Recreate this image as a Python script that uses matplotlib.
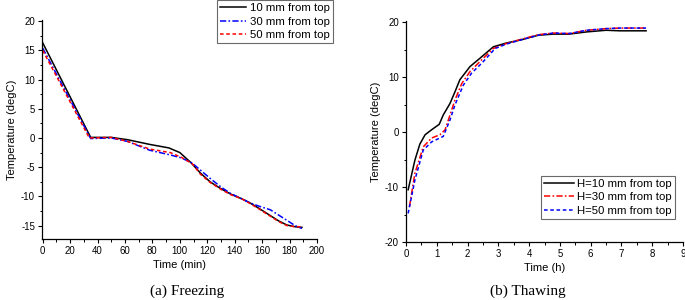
import matplotlib
matplotlib.use("Agg")
import matplotlib.pyplot as plt
from matplotlib.ticker import MultipleLocator

plt.rcParams['font.family'] = ['Liberation Sans', 'DejaVu Sans']
plt.rcParams['axes.unicode_minus'] = False
plt.rcParams['lines.scale_dashes'] = False

# ---- Freezing data (min, degC)
frz_t10 = [0, 35, 50, 62, 78, 92, 100, 108, 115, 122, 130, 137, 145, 151, 158, 166, 172, 178, 184, 189]
frz_T10 = [16.3, 0.1, 0.1, -0.3, -1.1, -1.7, -2.5, -4.2, -6.0, -7.5, -8.7, -9.6, -10.4, -11.1, -12.1, -13.3, -14.2, -14.9, -15.2, -15.3]
frz_t30 = [0, 35, 50, 62, 78, 93, 101, 109, 115, 122, 130, 137, 145, 151, 158, 166, 172, 178, 184, 189]
frz_T30 = [15.4, -0.1, 0.0, -0.6, -2.1, -2.9, -3.4, -4.3, -5.5, -6.9, -8.4, -9.5, -10.4, -11.1, -11.7, -12.3, -13.2, -14.1, -15.0, -15.5]
frz_t50 = [0, 34, 50, 62, 78, 93, 101, 109, 115, 122, 130, 137, 145, 151, 158, 166, 172, 178, 184, 189]
frz_T50 = [15.0, 0.0, 0.1, -0.6, -1.9, -2.5, -3.3, -4.4, -6.2, -7.6, -8.8, -9.7, -10.4, -11.2, -12.2, -13.4, -14.3, -15.0, -15.2, -15.2]

# ---- Thawing data (h, degC)
thw_t10 = [0.07, 0.29, 0.45, 0.62, 0.83, 1.08, 1.21, 1.43, 1.59, 1.75, 2.08, 2.4, 2.84, 3.27, 3.7, 4.3, 4.79, 5.3, 5.87, 6.5, 6.95, 7.8]
thw_T10 = [-10.5, -5.1, -2.2, -0.5, 0.4, 1.4, 3.1, 5.2, 7.3, 9.5, 11.9, 13.4, 15.5, 16.2, 16.7, 17.6, 17.8, 17.8, 18.2, 18.5, 18.4, 18.4]
thw_t30 = [0.11, 0.29, 0.56, 0.83, 1.1, 1.27, 1.43, 1.59, 1.81, 2.08, 2.4, 2.84, 3.27, 3.7, 4.3, 4.79, 5.3, 5.87, 6.5, 6.95, 7.8]
thw_T30 = [-13.6, -7.5, -2.7, -1.1, -0.5, 0.4, 3.1, 5.8, 8.8, 11.0, 12.8, 15.2, 16.1, 16.8, 17.7, 18.0, 17.9, 18.5, 18.8, 18.9, 18.9]
thw_t50 = [0.07, 0.29, 0.56, 0.83, 1.21, 1.43, 1.59, 1.86, 2.13, 2.46, 2.9, 3.27, 3.7, 4.3, 4.79, 5.3, 5.87, 6.5, 6.95, 7.8]
thw_T50 = [-14.8, -8.7, -3.3, -1.8, -0.8, 2.2, 4.9, 8.5, 10.7, 12.5, 15.2, 16.0, 16.7, 17.6, 18.0, 17.9, 18.5, 18.8, 18.9, 18.9]

fig = plt.figure(figsize=(6.85, 3.0), dpi=100)

tick_fs = 6.9
lab_fs = 8
leg_fs = 8.2
DASH = (0, (2.6, 1.9))
DASHDOT = (0, (4.5, 1.6, 1.2, 1.6))

def style(ax):
    for s in ('top', 'right'):
        ax.spines[s].set_visible(False)
    for s in ('left', 'bottom'):
        ax.spines[s].set_linewidth(0.9)
    ax.tick_params(which='major', direction='out', length=3, width=0.8, labelsize=tick_fs, pad=2)
    ax.tick_params(which='minor', direction='out', length=1.8, width=0.7)

def legstyle(leg):
    leg.get_frame().set_edgecolor('#444444')
    leg.get_frame().set_linewidth(0.8)

# Left: freezing
ax1 = fig.add_axes([0.0613, 0.2033, 0.4015, 0.73])
ax1.plot(frz_t10, frz_T10, color='black', lw=1.1, ls='-', label='10 mm from top')
ax1.plot(frz_t30, frz_T30, color='blue', lw=1.1, ls=DASHDOT, label='30 mm from top')
ax1.plot(frz_t50, frz_T50, color='red', lw=1.1, ls=DASH, label='50 mm from top')
ax1.set_xlim(-0.5, 200)
ax1.set_ylim(-17.3, 20.2)
ax1.xaxis.set_major_locator(MultipleLocator(20))
ax1.xaxis.set_minor_locator(MultipleLocator(10))
ax1.yaxis.set_major_locator(MultipleLocator(5))
ax1.yaxis.set_minor_locator(MultipleLocator(2.5))
style(ax1)
ax1.set_xlabel('Time (min)', fontsize=lab_fs, labelpad=3)
ax1.set_ylabel('Temperature (degC)', fontsize=lab_fs, labelpad=3)
leg1 = ax1.legend(loc='upper right', bbox_to_anchor=(333 / 685, 1.0), bbox_transform=fig.transFigure,
                  fontsize=leg_fs, frameon=True, fancybox=False, handlelength=2.3,
                  borderpad=0.3, labelspacing=0.28, handletextpad=0.3, borderaxespad=0)
legstyle(leg1)

# Right: thawing
ax2 = fig.add_axes([0.5927, 0.1933, 0.4044, 0.737])
ax2.plot(thw_t10, thw_T10, color='black', lw=1.1, ls='-', label='H=10 mm from top')
ax2.plot(thw_t30, thw_T30, color='red', lw=1.1, ls=DASHDOT, label='H=30 mm from top')
ax2.plot(thw_t50, thw_T50, color='blue', lw=1.1, ls=DASH, label='H=50 mm from top')
ax2.set_xlim(0, 9)
ax2.set_ylim(-20, 20.2)
ax2.xaxis.set_major_locator(MultipleLocator(1))
ax2.xaxis.set_minor_locator(MultipleLocator(0.5))
ax2.yaxis.set_major_locator(MultipleLocator(10))
ax2.yaxis.set_minor_locator(MultipleLocator(5))
style(ax2)
ax2.set_xlabel('Time (h)', fontsize=lab_fs, labelpad=3)
ax2.set_ylabel('Temperature (degC)', fontsize=lab_fs, labelpad=3)
leg2 = ax2.legend(loc='lower right', bbox_to_anchor=(675 / 685, 1 - 219 / 300), bbox_transform=fig.transFigure,
                  fontsize=leg_fs, frameon=True, fancybox=False, handlelength=2.6,
                  borderpad=0.3, labelspacing=0.28, handletextpad=0.3, borderaxespad=0)
legstyle(leg2)

fig.text(187.5 / 685, 1 - 291 / 300, '(a) Freezing', ha='center', va='center',
         fontsize=11, family=['Liberation Serif', 'DejaVu Serif'])
fig.text(527.5 / 685, 1 - 291 / 300, '(b) Thawing', ha='center', va='center',
         fontsize=11, family=['Liberation Serif', 'DejaVu Serif'])

fig.savefig('out.png', dpi=100)
